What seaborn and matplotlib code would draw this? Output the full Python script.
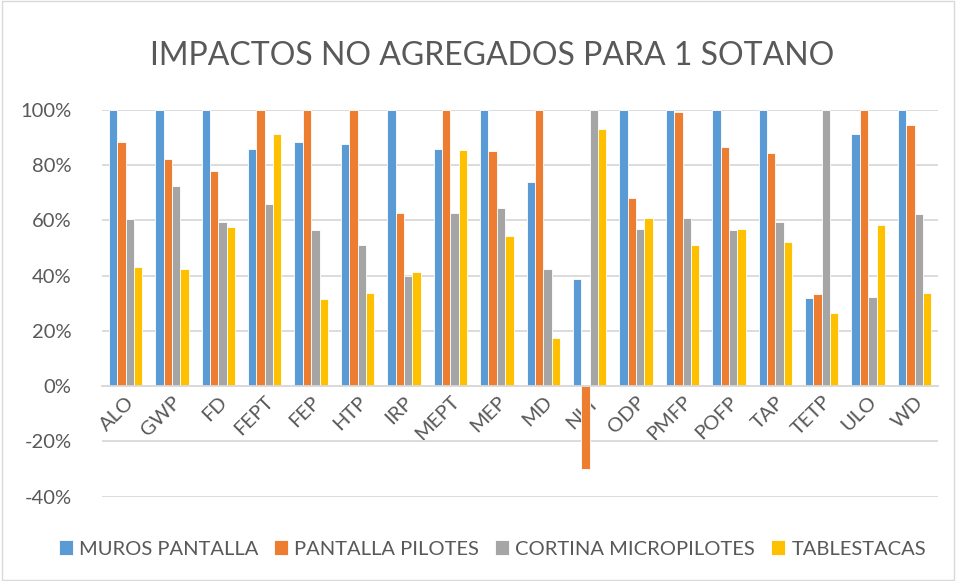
import pandas as pd
import matplotlib.pyplot as plt
import matplotlib.ticker as mtick
import seaborn as sns

# Categories and series (percent values)
categorias = ['ALO', 'GWP', 'FD', 'FEPT', 'FEP', 'HTP', 'IRP', 'MEPT', 'MEP',
              'MD', 'NLT', 'ODP', 'PMFP', 'POFP', 'TAP', 'TETP', 'ULO', 'WD']
muros_pantalla = [100, 100, 100, 86, 88.4, 87.7, 100, 85.7, 100,
                  73.9, 38.9, 100, 100, 100, 100, 32, 91.2, 100]
pantalla_pilotes = [88.5, 82.1, 77.8, 100, 100, 100, 62.7, 100, 85.1,
                    100, -30, 68.2, 99.2, 86.4, 84.5, 33.2, 100, 94.4]
cortina_micropilotes = [60.4, 72.3, 59.3, 65.8, 56.5, 51, 40, 62.8, 64.3,
                        42.5, 100, 57, 60.7, 56.6, 59.5, 100, 32.4, 62.2]
tablestacas = [43.2, 42.5, 57.5, 91.2, 31.4, 33.9, 41.2, 85.6, 54.5,
               17.4, 93.2, 60.9, 51, 57, 52, 26.6, 58.2, 33.9]

series = {
    'MUROS PANTALLA': muros_pantalla,
    'PANTALLA PILOTES': pantalla_pilotes,
    'CORTINA MICROPILOTES': cortina_micropilotes,
    'TABLESTACAS': tablestacas,
}
colores = ['#5B9BD5', '#ED7D31', '#A5A5A5', '#FFC000']

rows = []
for nombre, valores in series.items():
    for cat, v in zip(categorias, valores):
        rows.append({'categoria': cat, 'serie': nombre, 'valor': v})
df = pd.DataFrame(rows)

sns.set_style('white')
plt.rcParams['font.family'] = ['Lato', 'DejaVu Sans']
plt.rcParams['axes.unicode_minus'] = False
texto = '#595959'

fig = plt.figure(figsize=(9.56, 5.81), dpi=100)
ax = fig.add_axes([0.107, 0.145, 0.874, 0.666])

sns.barplot(data=df, x='categoria', y='valor', hue='serie',
            hue_order=list(series.keys()), order=categorias,
            palette=colores, saturation=1, width=0.72,
            edgecolor='white', linewidth=0.6, ax=ax)

ax.set_ylim(-40, 100)
ax.set_yticks(range(-40, 101, 20))
ax.yaxis.set_major_formatter(mtick.PercentFormatter(decimals=0))
ax.grid(axis='y', color='#d9d9d9', linewidth=1.3)
ax.set_axisbelow(True)
for s in ['top', 'right', 'left']:
    ax.spines[s].set_visible(False)
ax.spines['bottom'].set_position(('data', 0))
ax.spines['bottom'].set_color('#d9d9d9')
ax.spines['bottom'].set_linewidth(1.3)
ax.tick_params(axis='both', length=0, colors=texto, labelsize=14.5)
ax.tick_params(axis='y', pad=22)
ax.tick_params(axis='x', pad=5)
for lbl in ax.get_yticklabels():
    lbl.set_ha('right')
for lbl in ax.get_xticklabels():
    lbl.set_rotation(45)
    lbl.set_ha('right')
    lbl.set_rotation_mode('anchor')
ax.set_xlabel('')
ax.set_ylabel('')
ax.set_xlim(-0.5, len(categorias) - 0.5)

fig.suptitle('IMPACTOS NO AGREGADOS PARA 1 SOTANO', x=0.515, y=0.93,
             fontsize=23, color=texto)

handles, labels = ax.get_legend_handles_labels()
ax.legend_.remove()
fig.legend(handles, labels, loc='center', bbox_to_anchor=(0.515, 0.055),
           ncol=4, frameon=False, fontsize=14.5, labelcolor=texto,
           handlelength=0.7, handleheight=0.7, handletextpad=0.3,
           columnspacing=0.8)

# light frame round the chart
fig.patches.append(plt.Rectangle((0.002, 0.002), 0.996, 0.996,
                                 transform=fig.transFigure, fill=False,
                                 edgecolor='#d9d9d9', linewidth=1))

fig.savefig('out.png', dpi=100)
